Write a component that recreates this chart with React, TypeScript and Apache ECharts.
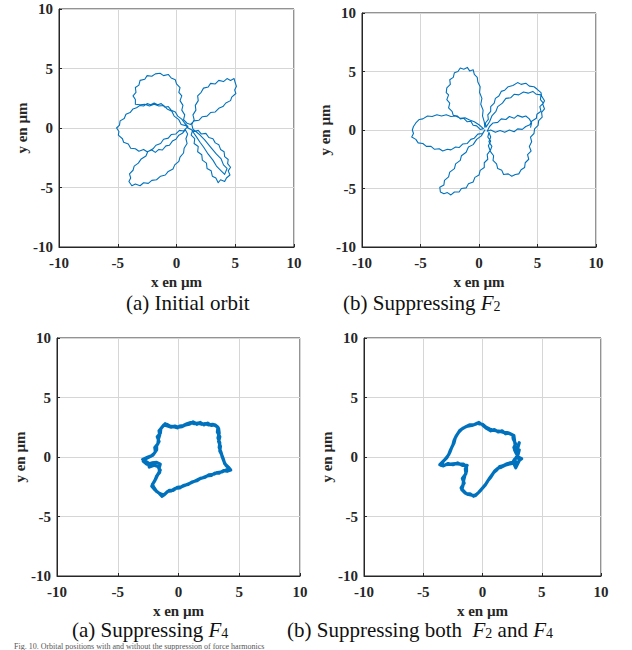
import React, { useEffect, useRef } from "react";
import * as echarts from "echarts";

// ---- Data (µm) ----
const orbitInitial: number[][] = [
  [1.0, 0.1], [0.7, 0.4], [0.45, 0.75], [0.1, 1.0], [-0.1, 1.35], [-0.45, 1.5], [-0.7, 1.8], [-1.0, 1.75],
  [-1.3, 2.05], [-1.6, 1.95], [-1.9, 2.1], [-2.2, 1.95], [-2.5, 2.05], [-2.8, 1.85], [-3.1, 1.9], [-3.4, 1.7],
  [-3.7, 1.6], [-3.95, 1.3], [-4.3, 1.15], [-4.45, 0.8], [-4.8, 0.6], [-4.85, 0.25], [-5.1, 0.0], [-4.9, -0.3],
  [-4.95, -0.6], [-4.6, -0.9], [-4.5, -1.2], [-4.1, -1.35], [-3.9, -1.7], [-3.5, -1.75], [-3.2, -1.95], [-2.8, -1.8],
  [-2.5, -2.0], [-2.1, -1.85], [-1.8, -2.05], [-1.5, -1.8], [-1.2, -1.85], [-0.9, -1.5], [-0.6, -1.45], [-0.35, -1.1],
  [-0.05, -0.95], [0.2, -0.6], [0.5, -0.45], [0.75, -0.15],
  [0.95, -0.5], [0.8, -0.9], [0.9, -1.3], [0.65, -1.7], [0.6, -2.1], [0.3, -2.45], [0.2, -2.8], [-0.15, -3.1],
  [-0.3, -3.45], [-0.7, -3.65], [-0.95, -3.95], [-1.35, -4.05], [-1.7, -4.35], [-2.1, -4.4], [-2.4, -4.65], [-2.8, -4.6],
  [-3.1, -4.85], [-3.5, -4.7], [-3.8, -4.85], [-4.05, -4.5], [-3.9, -4.2], [-4.0, -3.85], [-3.7, -3.55], [-3.6, -3.2],
  [-3.25, -2.95], [-3.0, -2.6], [-2.6, -2.35], [-2.45, -2.0], [-2.0, -1.75], [-1.75, -1.45], [-1.35, -1.3], [-1.1, -0.95],
  [-0.7, -0.85], [-0.45, -0.55], [-0.05, -0.5], [0.25, -0.2], [0.6, -0.25], [0.9, 0.05], [1.2, -0.1],
  [1.5, -0.3], [1.85, -0.2], [2.1, -0.5], [2.5, -0.45], [2.75, -0.8], [3.1, -0.9], [3.3, -1.25], [3.6, -1.4],
  [3.75, -1.8], [4.05, -2.0], [4.1, -2.4], [4.4, -2.65], [4.35, -3.0], [4.6, -3.3], [4.4, -3.6], [4.55, -3.95],
  [4.25, -4.2], [4.1, -4.5], [3.75, -4.35], [3.55, -4.6], [3.35, -4.2], [3.05, -4.05], [2.95, -3.6], [2.6, -3.4],
  [2.55, -2.95], [2.2, -2.7], [2.15, -2.25], [1.8, -2.0], [1.85, -1.55], [1.5, -1.3], [1.55, -0.9], [1.25, -0.6],
  [1.35, -0.25], [1.7, -0.75], [2.0, -1.2], [2.3, -1.6], [2.7, -2.2], [3.1, -2.7], [3.4, -3.2], [3.8, -3.6],
  [4.1, -3.9], [4.3, -3.4], [4.0, -3.1], [3.8, -2.6], [3.4, -2.2], [2.9, -1.6], [2.4, -1.0], [1.9, -0.5], [1.4, -0.1],
  [1.3, 0.3], [1.5, 0.7], [1.4, 1.1], [1.65, 1.5], [1.6, 1.9], [1.85, 2.3], [1.8, 2.7], [2.1, 3.0],
  [2.3, 3.35], [2.7, 3.45], [2.9, 3.75], [3.3, 3.7], [3.6, 4.0], [4.0, 3.9], [4.3, 4.15], [4.6, 4.0],
  [4.9, 4.15], [5.0, 3.8], [5.1, 3.5], [4.95, 3.2], [5.05, 2.9], [4.7, 2.6], [4.6, 2.3], [4.2, 2.1],
  [3.95, 1.8], [3.6, 1.65], [3.3, 1.35], [2.9, 1.3], [2.6, 1.0], [2.2, 0.95], [1.9, 0.65], [1.5, 0.6], [1.2, 0.3],
  [0.9, 0.4], [0.6, 0.7], [0.7, 1.1], [0.45, 1.5], [0.55, 1.9], [0.3, 2.3], [0.45, 2.7], [0.2, 3.0],
  [0.3, 3.4], [0.0, 3.7], [-0.1, 4.05], [-0.45, 4.2], [-0.7, 4.5], [-1.1, 4.4], [-1.4, 4.6], [-1.8, 4.55],
  [-2.1, 4.35], [-2.5, 4.4], [-2.7, 4.1], [-3.1, 4.0], [-3.2, 3.6], [-3.5, 3.4], [-3.45, 3.0], [-3.7, 2.7],
  [-3.5, 2.4], [-3.5, 2.0], [-3.1, 1.95], [-2.7, 2.0], [-2.3, 1.85], [-1.9, 2.0], [-1.5, 1.85], [-1.1, 1.9],
  [-0.8, 1.6], [-0.4, 1.4], [-0.2, 1.0], [0.2, 0.7], [0.4, 0.3], [0.8, 0.2], [1.1, -0.1],
];

const orbitF2: number[][] = [
  [0.5, 0.2], [0.45, 0.7], [0.3, 1.2], [0.35, 1.7], [0.15, 2.2], [0.25, 2.7], [0.05, 3.2], [0.1, 3.7],
  [-0.1, 4.1], [-0.15, 4.5], [-0.4, 4.75], [-0.5, 5.15], [-0.8, 5.05], [-1.0, 5.35], [-1.3, 5.2], [-1.6, 5.3],
  [-1.8, 5.0], [-2.1, 4.9], [-2.2, 4.5], [-2.5, 4.3], [-2.45, 3.9], [-2.75, 3.6], [-2.8, 3.2], [-2.6, 3.0],
  [-2.75, 2.6], [-2.5, 2.3], [-2.6, 1.9], [-2.3, 1.6], [-2.2, 1.25], [-1.85, 1.2], [-1.6, 0.95], [-1.3, 1.0],
  [-1.0, 0.7], [-0.7, 0.75], [-0.5, 0.4], [-0.2, 0.35], [0.1, 0.05], [0.4, 0.1],
  [0.0, 0.45], [-0.4, 0.7], [-0.8, 0.85], [-1.2, 1.05], [-1.6, 1.0], [-2.0, 1.2], [-2.4, 1.15], [-2.8, 1.3],
  [-3.2, 1.2], [-3.6, 1.3], [-4.0, 1.15], [-4.4, 1.2], [-4.8, 0.95], [-5.1, 0.9], [-5.4, 0.6], [-5.6, 0.3],
  [-5.7, 0.0], [-5.6, -0.3], [-5.75, -0.6], [-5.4, -0.8], [-5.2, -1.1], [-4.8, -1.15], [-4.5, -1.4], [-4.1, -1.4],
  [-3.8, -1.65], [-3.4, -1.6], [-3.1, -1.8], [-2.7, -1.65], [-2.4, -1.7], [-2.0, -1.45], [-1.7, -1.5], [-1.4, -1.2],
  [-1.0, -1.15], [-0.7, -0.8], [-0.4, -0.7], [-0.1, -0.35], [0.3, -0.3], [0.5, 0.0],
  [0.2, -0.5], [-0.2, -0.8], [-0.5, -1.25], [-0.9, -1.45], [-1.1, -1.9], [-1.5, -2.2], [-1.6, -2.6], [-2.0, -2.9],
  [-2.1, -3.3], [-2.5, -3.6], [-2.6, -4.0], [-2.95, -4.3], [-3.0, -4.7], [-3.35, -4.9], [-3.3, -5.3], [-3.0, -5.45],
  [-2.7, -5.35], [-2.4, -5.55], [-2.1, -5.3], [-1.7, -5.3], [-1.5, -5.0], [-1.1, -4.95], [-0.9, -4.6], [-0.5, -4.45],
  [-0.35, -4.05], [0.0, -3.85], [0.1, -3.45], [0.45, -3.2], [0.45, -2.8], [0.75, -2.5], [0.7, -2.1], [0.95, -1.75],
  [0.8, -1.35], [1.0, -0.95], [0.75, -0.6], [0.85, -0.2],
  [1.0, -0.6], [0.85, -1.0], [1.1, -1.4], [0.95, -1.8], [1.25, -2.2], [1.2, -2.6], [1.5, -2.9], [1.6, -3.3],
  [1.95, -3.45], [2.1, -3.8], [2.5, -3.75], [2.8, -3.95], [3.1, -3.8], [3.4, -3.75], [3.6, -3.4], [3.9, -3.2],
  [3.95, -2.8], [4.25, -2.5], [4.15, -2.1], [4.45, -1.8], [4.3, -1.4], [4.5, -1.0], [4.4, -0.6], [4.7, -0.3],
  [4.75, 0.1], [5.05, 0.4], [5.1, 0.8], [5.4, 1.1], [5.35, 1.5], [5.6, 1.8], [5.45, 2.2], [5.6, 2.5],
  [5.35, 2.9], [5.3, 3.2], [4.95, 3.5], [4.7, 3.7], [4.3, 3.75], [4.0, 4.0], [3.6, 3.9], [3.3, 4.05],
  [2.9, 3.8], [2.5, 3.7], [2.2, 3.4], [1.9, 3.3], [1.7, 2.9], [1.4, 2.7], [1.3, 2.3], [1.0, 2.0],
  [1.0, 1.6], [0.75, 1.3], [0.8, 0.9], [0.55, 0.6], [0.6, 0.25],
  [0.9, 0.7], [1.1, 1.2], [1.45, 1.6], [1.6, 2.0], [2.0, 2.3], [2.3, 2.7], [2.7, 2.75], [3.0, 3.05],
  [3.4, 3.0], [3.8, 3.25], [4.2, 3.15], [4.6, 3.3], [4.9, 3.05], [5.3, 3.0], [5.25, 2.6], [5.5, 2.3],
  [5.2, 2.0], [5.3, 1.6], [4.95, 1.35], [4.9, 1.0], [4.5, 0.75], [4.35, 0.45], [4.0, 0.3], [3.7, 0.05],
  [3.3, 0.1], [3.0, -0.15], [2.6, 0.0], [2.2, -0.2], [1.8, -0.05], [1.4, -0.2], [1.0, 0.0], [0.7, -0.1],
  [0.9, 0.3], [1.2, 0.6], [1.6, 0.65], [1.9, 0.95], [2.3, 0.9], [2.6, 1.15], [3.0, 1.0], [3.3, 1.25],
  [3.7, 1.1], [4.0, 1.2], [4.3, 0.95], [4.5, 0.6], [4.4, 0.2],
];

const orbitF4: number[][] = [
  [-1.25, 2.65], [-0.95, 2.75], [-0.7, 2.6], [-0.4, 2.55], [-0.1, 2.45], [0.1, 2.6], [0.4, 2.65], [0.7, 2.8],
  [1.0, 2.9], [1.3, 2.8], [1.6, 2.85], [1.9, 2.75], [2.2, 2.8], [2.5, 2.7], [2.8, 2.75], [3.1, 2.6],
  [3.3, 2.4], [3.35, 2.0], [3.25, 1.6], [3.4, 1.2], [3.35, 0.8], [3.5, 0.4], [3.6, 0.0], [3.75, -0.4],
  [3.9, -0.7], [4.2, -1.0], [3.9, -1.1], [3.6, -1.25], [3.2, -1.3], [2.9, -1.45], [2.5, -1.5], [2.2, -1.7],
  [1.8, -1.8], [1.5, -2.0], [1.1, -2.1], [0.8, -2.3], [0.4, -2.4], [0.1, -2.6], [-0.3, -2.65], [-0.6, -2.85],
  [-0.9, -2.9], [-1.2, -3.2], [-1.5, -3.1], [-1.8, -2.9], [-2.0, -2.6], [-2.15, -2.3], [-1.95, -2.0], [-1.8, -1.6],
  [-1.55, -1.3], [-1.6, -0.95], [-1.5, -0.6], [-1.8, -0.45], [-2.2, -0.5], [-2.6, -0.6], [-2.9, -0.35], [-2.7, -0.15],
  [-2.3, 0.05], [-2.0, 0.3], [-1.8, 0.6], [-1.8, 0.95], [-1.6, 1.3], [-1.75, 1.7], [-1.5, 2.0], [-1.45, 2.4],
  [-1.2, 2.7], [-0.9, 2.6], [-0.6, 2.5], [-0.3, 2.6], [0.0, 2.5], [0.3, 2.55], [0.6, 2.7], [0.9, 2.75],
  [1.2, 2.95], [1.5, 2.75], [1.8, 2.9], [2.1, 2.7], [2.4, 2.85], [2.7, 2.65], [3.0, 2.7], [3.25, 2.5],
  [3.2, 2.1], [3.4, 1.7], [3.3, 1.3], [3.45, 0.9], [3.4, 0.5], [3.55, 0.2], [3.7, -0.2], [3.8, -0.55],
  [4.1, -0.85], [4.3, -1.1], [4.0, -1.2], [3.7, -1.15], [3.35, -1.35], [3.0, -1.35], [2.7, -1.55], [2.35, -1.6],
  [2.0, -1.75], [1.7, -1.85], [1.3, -2.05], [0.95, -2.2], [0.6, -2.35], [0.25, -2.5], [-0.1, -2.55], [-0.45, -2.8],
  [-0.75, -2.8], [-1.05, -3.05], [-1.35, -3.3], [-1.65, -3.0], [-1.95, -2.75], [-2.2, -2.45], [-2.05, -2.15], [-1.85, -1.8],
  [-1.7, -1.45], [-1.5, -1.1], [-1.7, -0.8], [-2.0, -0.7], [-2.4, -0.85], [-2.5, -0.5], [-2.95, -0.2], [-2.5, 0.0],
  [-2.1, 0.15], [-1.9, 0.45], [-1.95, 0.8], [-1.7, 1.1], [-1.65, 1.5], [-1.55, 1.85], [-1.6, 2.2], [-1.35, 2.5],
  [-1.1, 2.8], [-0.95, 2.65],
];

const orbitBoth: number[][] = [
  [-0.35, 2.8], [0.0, 2.75], [0.3, 2.5], [0.6, 2.35], [0.9, 2.25], [1.2, 2.2], [1.5, 2.15], [1.8, 2.05],
  [2.1, 2.05], [2.4, 1.9], [2.65, 1.8], [2.7, 1.4], [2.75, 1.0], [2.7, 0.6], [2.85, 0.3], [3.1, 1.2],
  [2.9, 0.5], [3.0, 0.0], [3.3, -0.15], [3.1, -0.3], [2.9, -0.6], [2.7, -0.2], [2.5, -0.55], [2.2, -0.6],
  [1.9, -0.7], [1.6, -0.85], [1.3, -0.95], [1.05, -1.15], [0.8, -1.5], [0.55, -1.85], [0.3, -2.25], [0.0, -2.6],
  [-0.3, -2.95], [-0.6, -3.25], [-0.9, -3.2], [-1.2, -3.15], [-1.5, -3.0], [-1.75, -2.75], [-1.65, -2.4], [-1.6, -2.0],
  [-1.5, -1.6], [-1.35, -1.2], [-1.35, -0.85], [-1.6, -0.6], [-1.9, -0.6], [-2.3, -0.55], [-2.7, -0.6], [-3.1, -0.65],
  [-3.5, -0.7], [-3.3, -0.35], [-3.0, -0.05], [-2.75, 0.4], [-2.6, 0.8], [-2.4, 1.2], [-2.3, 1.6], [-2.1, 1.95],
  [-1.9, 2.25], [-1.6, 2.45], [-1.25, 2.6], [-0.9, 2.65], [-0.6, 2.75], [-0.3, 2.9],
  [0.05, 2.65], [0.35, 2.4], [0.7, 2.2], [1.0, 2.3], [1.35, 2.1], [1.65, 2.2], [1.95, 1.95], [2.25, 2.0],
  [2.55, 1.85], [2.6, 1.5], [2.8, 1.1], [2.65, 0.8], [2.8, 0.4], [3.1, 0.6], [3.0, 0.2], [2.8, -0.1],
  [3.2, -0.1], [3.0, -0.5], [2.8, -0.9], [2.6, -0.45], [2.3, -0.5], [2.0, -0.6], [1.7, -0.75], [1.45, -0.8],
  [1.2, -1.1], [0.95, -1.3], [0.7, -1.7], [0.45, -2.0], [0.2, -2.4], [-0.15, -2.8], [-0.45, -3.1], [-0.75, -3.3],
  [-1.05, -3.1], [-1.35, -3.1], [-1.6, -2.85], [-1.8, -2.6], [-1.55, -2.2], [-1.7, -1.8], [-1.4, -1.4], [-1.45, -1.0],
  [-1.3, -0.7], [-1.7, -0.7], [-2.1, -0.5], [-2.5, -0.65], [-2.9, -0.55], [-3.3, -0.75], [-3.6, -0.65], [-3.2, -0.25],
  [-2.85, 0.2], [-2.7, 0.6], [-2.5, 1.0], [-2.4, 1.4], [-2.2, 1.8], [-2.0, 2.1], [-1.75, 2.35], [-1.4, 2.55],
  [-1.1, 2.7], [-0.75, 2.7], [-0.45, 2.85], [-0.2, 2.75],
];

const axisMin = -10;
const axisMax = 10;
const axisStep = 5;
const xTitle = "x en µm";
const yTitle = "y en µm";
const orbits = [orbitInitial, orbitF2, orbitF4, orbitBoth];
const figureCaption = "Fig. 10. Orbital positions with and without the suppression of force harmonics";

const SERIF = '"Liberation Serif", "Times New Roman", serif';

export default function App() {
  const ref = useRef<HTMLDivElement>(null);

  useEffect(() => {
    if (!ref.current) return;
    const chart = echarts.init(ref.current, undefined, { renderer: "svg" });

    const grids = [
      { left: 59, top: 9, width: 235, height: 238 },
      { left: 362, top: 13, width: 234, height: 234 },
      { left: 57, top: 338, width: 243, height: 238 },
      { left: 364, top: 338, width: 237, height: 238 },
    ];
    const xGaps = [27, 27, 27, 27];
    const yGaps = [18, 25, 28, 28];
    const widths = [1.1, 1.1, 3.2, 3.2];

    const common = {
      type: "value" as const,
      min: axisMin,
      max: axisMax,
      interval: axisStep,
      nameLocation: "middle" as const,
      nameTextStyle: { fontFamily: SERIF, fontWeight: "bold", fontSize: 15, color: "#262626" },
      axisLine: { show: true, onZero: false, lineStyle: { color: "#262626", width: 1 } },
      axisTick: { show: true, inside: true, length: 3, lineStyle: { color: "#262626" } },
      axisLabel: { fontFamily: SERIF, fontWeight: "bold", fontSize: 15, color: "#262626" },
      splitLine: { show: true, lineStyle: { color: "#d6d6d6", width: 1 } },
    };

    const rich = {
      n: { fontFamily: SERIF, fontSize: 21, fill: "#111", lineHeight: 21, verticalAlign: "bottom" },
      i: { fontFamily: SERIF, fontSize: 21, fontStyle: "italic", fill: "#111", lineHeight: 21, verticalAlign: "bottom" },
      s: { fontFamily: SERIF, fontSize: 14, fill: "#111", lineHeight: 11, verticalAlign: "bottom" },
    };

    const option: any = {
      animation: false,
      backgroundColor: "#ffffff",
      grid: grids.map((g) => ({
        ...g,
        show: true,
        borderColor: "#262626",
        borderWidth: 1,
        backgroundColor: "transparent",
        containLabel: false,
      })),
      xAxis: grids.map((_, i) => ({
        ...common,
        gridIndex: i,
        name: xTitle,
        nameGap: xGaps[i],
        axisLabel: { ...common.axisLabel, margin: 8 },
      })),
      yAxis: grids.map((_, i) => ({
        ...common,
        gridIndex: i,
        name: yTitle,
        nameGap: yGaps[i],
        axisLabel: { ...common.axisLabel, margin: 6 },
      })),
      series: orbits.map((d, i) => ({
        type: "line",
        xAxisIndex: i,
        yAxisIndex: i,
        data: d,
        showSymbol: false,
        symbol: "none",
        silent: true,
        lineStyle: { color: "#0072BD", width: widths[i], join: "round" },
      })),
      graphic: [
        {
          type: "text",
          x: 126,
          y: 303,
          style: { text: "{n|(a) Initial orbit}", verticalAlign: "middle", rich },
        },
        {
          type: "text",
          x: 343,
          y: 303,
          style: { text: "{n|(b) Suppressing }{i|F}{s|2}", verticalAlign: "middle", rich },
        },
        {
          type: "text",
          x: 72,
          y: 630,
          style: { text: "{n|(a) Suppressing }{i|F}{s|4}", verticalAlign: "middle", rich },
        },
        {
          type: "text",
          x: 287,
          y: 630,
          style: { text: "{n|(b) Suppressing both  }{i|F}{s|2}{n| and }{i|F}{s|4}", verticalAlign: "middle", rich },
        },
        {
          type: "text",
          x: 14,
          y: 646,
          style: {
            text: figureCaption,
            fontFamily: SERIF,
            fontSize: 8,
            lineHeight: 8,
            fill: "#555",
            verticalAlign: "middle",
          },
        },
      ],
    };

    chart.setOption(option);
    return () => chart.dispose();
  }, []);

  return (
    <div
      ref={ref}
      style={{ position: "absolute", left: 0, top: 0, width: 632, height: 650, background: "#fff" }}
    />
  );
}
